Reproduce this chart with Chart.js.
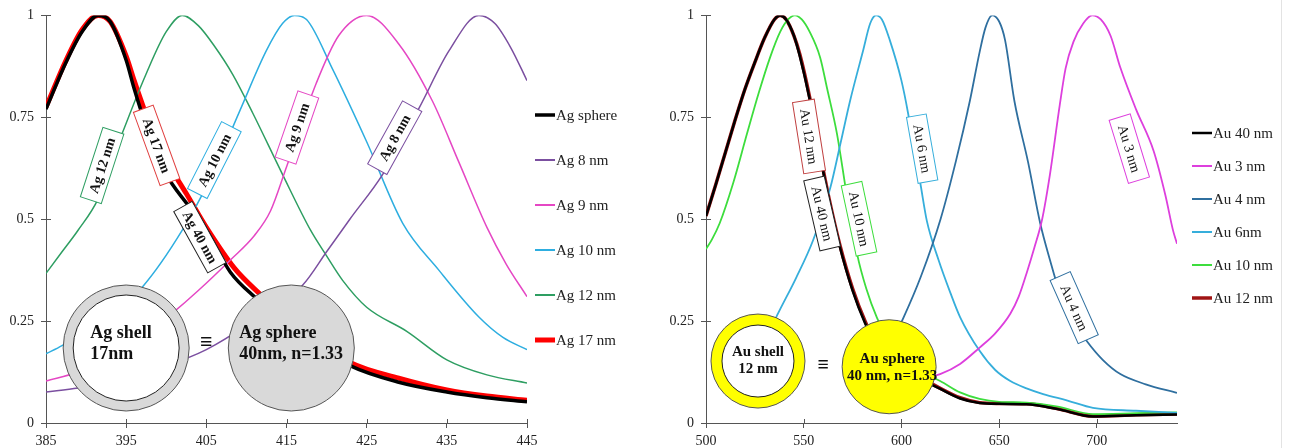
<!DOCTYPE html>
<html>
<head>
<meta charset="utf-8">
<script src="https://cdn.jsdelivr.net/npm/chart.js@4.4.1/dist/chart.umd.min.js"></script>
<style>
	body { margin: 0; width: 1293px; height: 448px; position: relative; background: #fff; overflow: hidden }
	.box { position: absolute; top: 0; height: 448px }
</style>
</head>
<body>
<div class="box" style="left:0;width:645px"><canvas id="ag"></canvas></div>
<div class="box" style="left:645px;width:648px"><canvas id="au"></canvas></div>
<div class="box" style="left:1281px;width:1px;background:#e3e3e3"></div>
<script>
// ---- data: [wavelength nm, normalised extinction]
const agTicks = [385, 395, 405, 415, 425, 435, 445]
const auTicks = [500, 550, 600, 650, 700]
const yTicks = [0, 0.25, 0.5, 0.75, 1]

const agSphere = [[385,0.77],[387.5,0.885],[389.5,0.96],[391.5,1],[393,0.985],[395,0.89],[396,0.82],[398,0.70],[400,0.61],[402.5,0.54],[404.5,0.49],[408,0.37],[411,0.31],[415,0.25],[419,0.19],[423,0.14],[429,0.10],[435,0.076],[440,0.062],[445,0.052]]
const ag8 = [[385,0.076],[389,0.086],[395,0.11],[400,0.14],[405,0.18],[410,0.24],[414,0.30],[417,0.338],[420,0.42],[422.9,0.5],[427,0.61],[431.6,0.775],[435.3,0.914],[439,1],[441,0.98],[443,0.92],[445,0.84]]
const ag9 = [[385,0.103],[389,0.125],[395,0.18],[400.8,0.27],[404,0.325],[408,0.40],[411,0.46],[413,0.52],[415,0.628],[418.7,0.833],[421.5,0.95],[425,1],[429,0.93],[433.2,0.79],[436.5,0.64],[440,0.48],[442.4,0.39],[445,0.31]]
const ag10 = [[385,0.17],[387,0.19],[391,0.24],[394,0.28],[397,0.333],[402,0.473],[405.5,0.60],[409.2,0.767],[412.5,0.914],[414.5,0.98],[416,1],[417.5,0.99],[420.7,0.87],[425,0.69],[429.5,0.49],[434,0.375],[439,0.26],[442,0.21],[445,0.18]]
const ag12 = [[385,0.367],[387,0.42],[389,0.473],[391.5,0.55],[394.5,0.71],[397.5,0.857],[400,0.96],[402,1],[404,0.975],[406,0.925],[408.3,0.855],[410.8,0.76],[414.5,0.61],[418,0.473],[420,0.41],[422,0.35],[425,0.284],[430,0.225],[435,0.155],[440,0.118],[445,0.098]]
const ag17 = [[385,0.775],[387.5,0.89],[389.5,0.965],[391.5,1],[393,0.985],[395,0.90],[396,0.84],[398,0.73],[400,0.645],[402.5,0.563],[405,0.48],[408.5,0.38],[411.5,0.32],[415,0.26],[419,0.20],[423,0.148],[429,0.11],[435,0.081],[440,0.066],[445,0.056]]

const au40 = [[500,0.508],[505,0.585],[510,0.665],[515,0.745],[520,0.82],[525,0.885],[530,0.945],[535,0.99],[538,1],[541,0.99],[545,0.95],[548,0.90],[553,0.795],[558,0.665],[563,0.545],[568.6,0.43],[575,0.325],[581.4,0.245],[590,0.165],[600,0.125],[610,0.105],[618,0.088],[630,0.06],[640,0.049],[650,0.047],[664,0.046],[680,0.034],[698,0.016],[720,0.019],[741,0.021]]
const au3 = [[605,0.10],[612,0.11],[619.8,0.12],[630,0.145],[640,0.185],[648,0.22],[655.7,0.268],[660,0.31],[664.4,0.373],[668,0.43],[672,0.50],[676,0.61],[681,0.78],[684,0.87],[688,0.935],[693,0.98],[697.6,1],[702,0.99],[707,0.95],[712,0.872],[720,0.77],[729,0.668],[735,0.56],[739,0.472],[741,0.44]]
const au4 = [[585,0.12],[593,0.18],[601,0.258],[610,0.36],[620,0.50],[628,0.645],[635,0.79],[640,0.91],[643,0.97],[646.4,1],[650,0.985],[653,0.94],[657.8,0.79],[664.8,0.64],[671,0.49],[676,0.40],[681,0.32],[688,0.25],[695,0.20],[703,0.155],[712,0.12],[725,0.095],[741,0.074]]
const au6 = [[515,0.12],[525,0.16],[532,0.22],[537,0.27],[546,0.355],[554.7,0.447],[563.6,0.577],[569,0.69],[573.7,0.79],[580.4,0.914],[584,0.98],[587,1],[590,0.99],[594,0.94],[600,0.84],[603.4,0.76],[606.5,0.67],[609.6,0.59],[613,0.496],[619,0.40],[625,0.32],[630,0.26],[640,0.177],[648,0.13],[655.7,0.103],[664,0.085],[672.5,0.071],[685,0.055],[698,0.037],[720,0.03],[741,0.025]]
const au10 = [[500,0.427],[503,0.45],[507,0.49],[514,0.59],[521,0.71],[527,0.81],[532.8,0.897],[538,0.96],[542,0.99],[545.5,1],[549,0.99],[553,0.96],[558.4,0.897],[562,0.82],[567,0.71],[572,0.56],[577.3,0.415],[582,0.33],[587.5,0.258],[595,0.19],[605,0.14],[612,0.12],[619.8,0.103],[630,0.075],[640,0.059],[650,0.052],[664,0.05],[680,0.04],[698,0.022],[720,0.024],[741,0.026]]
const au12 = [[500,0.508],[505,0.585],[510,0.665],[515,0.745],[520,0.82],[525,0.885],[530,0.945],[535,0.99],[538,1],[541,0.99],[545,0.95],[548,0.905],[553,0.80],[558,0.67],[563,0.55],[568.6,0.435],[575,0.33],[581.4,0.25],[590,0.17],[600,0.13],[610,0.11],[618,0.09],[630,0.062],[640,0.05],[650,0.048],[664,0.047],[680,0.035],[698,0.017],[720,0.02],[741,0.022]]

const serif = "'Liberation Serif', 'Times New Roman', serif"

// in-plot text boxes and the shell/sphere sketches
const decor = {
	id: 'decor',
	afterDatasetsDraw(chart, args, o) {
		const { ctx, scales: { x, y } } = chart
		ctx.save()
		for (const d of o.discs || []) {
			const cx = x.getPixelForValue(d.at[0]), cy = y.getPixelForValue(d.at[1])
			ctx.beginPath()
			ctx.arc(cx, cy, d.r, 0, 2 * Math.PI)
			ctx.fillStyle = d.fill
			ctx.fill()
			ctx.strokeStyle = '#555'
			ctx.lineWidth = 1
			ctx.stroke()
			if (d.hole) {
				ctx.beginPath()
				ctx.arc(cx, cy, d.hole, 0, 2 * Math.PI)
				ctx.fillStyle = '#fff'
				ctx.fill()
				ctx.strokeStyle = '#222'
				ctx.stroke()
			}
			ctx.fillStyle = '#111'
			ctx.font = `bold ${d.size}px ${serif}`
			ctx.textAlign = d.align
			ctx.textBaseline = 'middle'
			d.text.forEach((t, i) => ctx.fillText(t, cx + d.dx, cy + d.dy + i * d.lh))
		}
		for (const e of o.marks || []) {
			ctx.fillStyle = '#111'
			ctx.font = `bold ${e.size}px ${serif}`
			ctx.textAlign = 'center'
			ctx.textBaseline = 'middle'
			ctx.fillText(e.text, x.getPixelForValue(e.at[0]), y.getPixelForValue(e.at[1]))
		}
		for (const b of o.boxes || []) {
			ctx.save()
			ctx.translate(x.getPixelForValue(b.at[0]), y.getPixelForValue(b.at[1]))
			ctx.rotate(b.angle * Math.PI / 180)
			ctx.fillStyle = '#fff'
			ctx.fillRect(-b.w / 2, -b.h / 2, b.w, b.h)
			ctx.strokeStyle = b.color
			ctx.lineWidth = 1
			ctx.strokeRect(-b.w / 2, -b.h / 2, b.w, b.h)
			ctx.fillStyle = '#111'
			ctx.font = `${o.bold ? 'bold ' : ''}14px ${serif}`
			ctx.textAlign = 'center'
			ctx.textBaseline = 'middle'
			ctx.fillText(b.text, 0, 1)
			ctx.restore()
		}
		ctx.restore()
	}
}

// ticks in the reference cross the axis line
const crossTicks = {
	id: 'crossTicks',
	afterDraw(chart) {
		const { ctx, chartArea: a, scales: { x, y } } = chart
		ctx.save()
		ctx.strokeStyle = '#555'
		ctx.lineWidth = 1
		ctx.beginPath()
		for (const t of x.ticks) {
			const px = Math.round(x.getPixelForValue(t.value)) + 0.5
			ctx.moveTo(px, a.bottom)
			ctx.lineTo(px, a.bottom - 4)
		}
		for (const t of y.ticks) {
			const py = Math.round(y.getPixelForValue(t.value)) + 0.5
			ctx.moveTo(a.left, py)
			ctx.lineTo(a.left + 5, py)
		}
		ctx.stroke()
		ctx.restore()
	}
}

// legend: short line glued to the label, like the original
const keyList = {
	id: 'keyList',
	afterDraw(chart, args, o) {
		const { ctx, chartArea: a } = chart
		ctx.save()
		chart.data.datasets.forEach((ds, i) => {
			const x = a.right + o.dx, y = o.top + i * o.gap
			ctx.strokeStyle = ds.borderColor
			ctx.lineWidth = Math.max(2, ds.borderWidth)
			ctx.beginPath()
			ctx.moveTo(x, y)
			ctx.lineTo(x + 20, y)
			ctx.stroke()
			ctx.fillStyle = '#222'
			ctx.font = `15px ${serif}`
			ctx.textAlign = 'left'
			ctx.textBaseline = 'middle'
			ctx.fillText(ds.label, x + 21, y + 1)
		})
		ctx.restore()
	}
}

function line(label, data, color, width, order) {
	return {
		label, data,
		borderColor: color, backgroundColor: color,
		borderWidth: width, pointRadius: 0,
		cubicInterpolationMode: 'monotone',
		order: order || 1
	}
}

function options(xMin, xMax, xTicks, yWidth, padRight, key, plugOpts) {
	const tickFont = { family: serif, size: 14 }
	return {
		responsive: true,
		maintainAspectRatio: false,
		animation: false,
		events: [],
		layout: { padding: { top: 15, right: padRight } },
		plugins: {
			tooltip: { enabled: false },
			legend: { display: false },
			keyList: key,
			decor: plugOpts
		},
		scales: {
			x: {
				type: 'linear', min: xMin, max: xMax,
				afterBuildTicks: s => { s.ticks = xTicks.map(v => ({ value: v })) },
				afterFit: s => { s.height = 25 },
				grid: { drawOnChartArea: false, color: '#555', tickLength: 5 },
				border: { color: '#555' },
				ticks: { font: tickFont, color: '#222', padding: 5, maxRotation: 0, callback: v => String(v) }
			},
			y: {
				min: 0, max: 1,
				afterBuildTicks: s => { s.ticks = yTicks.map(v => ({ value: v })) },
				afterFit: s => { s.width = yWidth },
				grid: { drawOnChartArea: false, color: '#555', tickLength: 5 },
				border: { color: '#555' },
				ticks: { font: tickFont, color: '#222', padding: 7, callback: v => String(v) }
			}
		}
	}
}

new Chart('ag', {
	type: 'line',
	data: {
		datasets: [
			line('Ag sphere', agSphere, '#000000', 3.5),
			line('Ag 8 nm', ag8, '#7b4fa0', 1.5),
			line('Ag 9 nm', ag9, '#e547c4', 1.5),
			line('Ag 10 nm', ag10, '#2eaee0', 1.5),
			line('Ag 12 nm', ag12, '#2e9e62', 1.5),
			line('Ag 17 nm', ag17, '#ff0000', 5, 0)
		]
	},
	options: options(385, 445, agTicks, 46, 118, { dx: 8, top: 115, gap: 45 }, {
		bold: true,
		discs: [
			{ at: [395, 0.184], r: 63, hole: 53, fill: '#d9d9d9', text: ['Ag shell', '17nm'], size: 18, align: 'left', dx: -36, dy: -15, lh: 21 },
			{ at: [415.6, 0.184], r: 63, fill: '#d9d9d9', text: ['Ag sphere', '40nm, n=1.33'], size: 18, align: 'left', dx: -52, dy: -15, lh: 21 }
		],
		marks: [{ at: [405, 0.196], text: '\u2261', size: 22 }],
		boxes: [
			{ at: [392, 0.632], angle: -72, w: 73, h: 22, color: '#2e9e62', text: 'Ag 12 nm' },
			{ at: [398.8, 0.681], angle: 70, w: 78, h: 21, color: '#e04040', text: 'Ag 17 nm' },
			{ at: [406, 0.645], angle: -63, w: 75, h: 22, color: '#2eaee0', text: 'Ag 10 nm' },
			{ at: [416.3, 0.725], angle: -71, w: 70, h: 22, color: '#e547c4', text: 'Ag 9 nm' },
			{ at: [428.5, 0.70], angle: -61, w: 72, h: 22, color: '#7b4fa0', text: 'Ag 8 nm' },
			{ at: [404.2, 0.456], angle: 61, w: 70, h: 21, color: '#222', text: 'Ag 40 nm' }
		]
	}),
	plugins: [decor, crossTicks, keyList]
})

new Chart('au', {
	type: 'line',
	data: {
		datasets: [
			line('Au 40 nm', au40, '#000000', 2.5),
			line('Au 3 nm', au3, '#dd3fdd', 1.8),
			line('Au 4 nm', au4, '#2f6f9f', 1.8),
			line('Au 6nm', au6, '#36aedb', 1.8),
			line('Au 10 nm', au10, '#3ddd3d', 1.8),
			line('Au 12 nm', au12, '#a01414', 3.5, 0)
		]
	},
	options: options(500, 741, auTicks, 61, 116, { dx: 15, top: 133, gap: 33 }, {
		bold: false,
		discs: [
			{ at: [526.6, 0.152], r: 47, hole: 36, fill: '#ffff00', text: ['Au shell', '12 nm'], size: 15, align: 'center', dx: 0, dy: -9, lh: 17 },
			{ at: [593.7, 0.138], r: 47, fill: '#ffff00', text: ['Au sphere', '40 nm, n=1.33'], size: 15, align: 'center', dx: 3, dy: -8, lh: 17 }
		],
		marks: [{ at: [560, 0.14], text: '\u2261', size: 20 }],
		boxes: [
			{ at: [552.7, 0.703], angle: 81, w: 72, h: 22, color: '#c04040', text: 'Au 12 nm' },
			{ at: [559.4, 0.514], angle: 77, w: 72, h: 21, color: '#222', text: 'Au 40 nm' },
			{ at: [578.3, 0.501], angle: 78, w: 72, h: 21, color: '#3ddd3d', text: 'Au 10 nm' },
			{ at: [610.6, 0.673], angle: 80, w: 67, h: 20, color: '#36aedb', text: 'Au 6 nm' },
			{ at: [716.6, 0.673], angle: 73, w: 66, h: 22, color: '#dd3fdd', text: 'Au 3 nm' },
			{ at: [688.4, 0.283], angle: 66, w: 69, h: 22, color: '#2f6f9f', text: 'Au 4 nm' }
		]
	}),
	plugins: [decor, crossTicks, keyList]
})
</script>
</body>
</html>
